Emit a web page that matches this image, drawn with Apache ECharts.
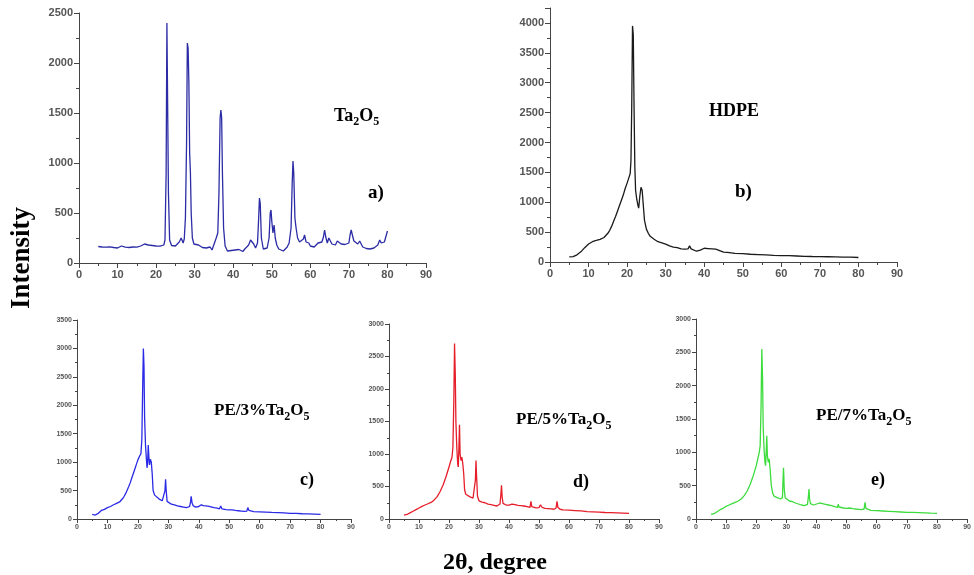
<!DOCTYPE html>
<html>
<head>
<meta charset="utf-8">
<script src="https://cdn.jsdelivr.net/npm/echarts@6/dist/echarts.min.js"></script>
<style>html,body{margin:0;padding:0;background:#fff;}#c{width:974px;height:575px;}</style>
</head>
<body>
<div id="c"></div>
<script>
// ---- data: [2theta, intensity] ----
const ta2o5 = [[5,165],[5.5,150],[6,160],[6.5,145],[7,158],[7.5,150],[8,162],[8.5,148],[9,155],[9.5,165],[10,150],[10.5,158],[11,170],[11.5,150],[12,158],[12.5,145],[13,155],[13.5,148],[14,160],[14.5,150],[15,158],[15.5,165],[16,170],[16.5,175],[17,190],[17.5,185],[18,180],[18.5,188],[19,175],[19.5,182],[20,170],[20.5,178],[21,168],[21.5,175],[22,180],[22.3,230],[22.6,900],[22.8,2400],[23.0,2380],[23.2,700],[23.5,230],[24,175],[24.5,165],[25,170],[25.5,180],[26,210],[26.5,250],[27,200],[27.3,240],[27.6,450],[27.9,1200],[28.1,2200],[28.3,2150],[28.5,1800],[28.7,1100],[28.9,900],[29.1,500],[29.4,250],[29.8,190],[30.3,170],[31,180],[31.5,165],[32,155],[32.5,160],[33,150],[33.5,140],[34,160],[34.5,130],[35,145],[35.5,240],[36,300],[36.3,700],[36.6,1450],[36.8,1530],[37.0,1450],[37.2,900],[37.5,350],[37.9,170],[38.5,120],[39,130],[39.5,125],[40,115],[40.5,130],[41,120],[41.5,135],[42,125],[42.5,115],[43,140],[43.5,130],[44,180],[44.5,230],[44.9,250],[45.3,190],[45.8,150],[46.3,200],[46.6,450],[46.8,650],[47.0,600],[47.3,250],[47.8,140],[48.3,130],[48.8,150],[49.3,250],[49.6,500],[49.8,530],[50.0,420],[50.3,300],[50.6,380],[50.9,250],[51.3,180],[51.8,140],[52.3,130],[53,120],[53.5,135],[54,160],[54.5,200],[55,350],[55.3,800],[55.5,1020],[55.7,900],[56,450],[56.3,350],[56.7,250],[57.2,210],[57.7,190],[58.2,240],[58.5,280],[58.9,210],[59.3,230],[59.6,200],[60,170],[60.5,150],[61,160],[61.5,170],[62,200],[62.5,190],[63,210],[63.4,260],[63.7,330],[64,260],[64.4,200],[64.8,250],[65.2,230],[65.6,190],[66,170],[66.5,180],[67,220],[67.5,200],[68,190],[68.5,175],[69,185],[69.5,170],[70,200],[70.3,280],[70.6,330],[70.9,280],[71.3,220],[71.8,200],[72.3,190],[72.8,220],[73.2,190],[73.6,160],[74,150],[74.5,145],[75,150],[75.5,140],[76,155],[76.5,150],[77,170],[77.5,180],[78,230],[78.4,200],[78.8,190],[79.2,210],[79.6,220],[80,320]];

const hdpe = [[5,85],[5.5,80],[6,90],[6.5,100],[7,120],[7.5,140],[8,170],[8.5,200],[9,240],[9.5,270],[10,300],[10.5,320],[11,340],[11.5,350],[12,360],[12.5,365],[13,380],[13.5,390],[14,410],[14.5,440],[15,480],[15.5,530],[16,600],[16.5,680],[17,760],[17.5,850],[18,940],[18.5,1030],[19,1120],[19.5,1230],[20,1320],[20.4,1400],[20.8,1480],[21.0,1700],[21.2,2600],[21.4,3950],[21.6,3800],[21.8,2600],[22.0,1600],[22.2,1200],[22.5,1050],[22.8,950],[23.0,900],[23.3,1100],[23.6,1250],[23.9,1200],[24.2,950],[24.5,700],[25,550],[25.5,480],[26,430],[27,380],[28,340],[29,320],[30,300],[31,270],[32,250],[33,240],[34,220],[35,215],[35.8,220],[36.2,270],[36.6,220],[37,200],[38,180],[39,200],[40,230],[41,225],[42,220],[43,215],[44,190],[45,165],[46,160],[48,145],[50,140],[52,130],[54,125],[56,120],[58,110],[60,105],[62,105],[64,100],[66,95],[68,92],[70,90],[72,88],[74,85],[76,82],[78,80],[80,75]];

const pe3 = [[5,80],[5.5,75],[6,70],[6.5,80],[7,100],[7.5,120],[8,150],[8.5,160],[9,170],[9.5,185],[10,200],[10.5,210],[11,220],[11.5,235],[12,250],[12.5,260],[13,275],[13.5,290],[14,300],[14.5,330],[15,360],[15.5,400],[16,450],[16.5,510],[17,570],[17.5,640],[18,720],[18.5,800],[19,880],[19.5,960],[20,1040],[20.5,1100],[21,1150],[21.3,1400],[21.6,2400],[21.8,3000],[22.0,2700],[22.2,1800],[22.5,1300],[22.8,1050],[23.0,900],[23.2,1000],[23.4,1300],[23.6,1100],[23.8,950],[24.1,1050],[24.4,1000],[24.7,800],[25.0,500],[25.5,420],[26,390],[27,350],[28,320],[28.6,300],[28.9,500],[29.1,700],[29.3,500],[29.6,310],[30,280],[31,260],[32,250],[33,230],[34,220],[35,210],[36,200],[37,220],[37.3,300],[37.5,400],[37.8,280],[38.2,230],[39,210],[40,220],[40.8,250],[41.5,235],[42,230],[43,225],[44,215],[45,200],[46,190],[46.8,180],[47.2,230],[47.6,180],[48,175],[49,165],[50,160],[51,160],[52,150],[53,145],[54,140],[55,135],[55.8,140],[56.1,200],[56.5,150],[57,135],[58,130],[60,125],[62,120],[64,115],[66,112],[68,108],[70,100],[72,98],[74,92],[76,90],[78,85],[80,80]];

const pe5 = [[5,60],[5.5,65],[6,70],[7,95],[8,120],[9,145],[10,170],[11,195],[12,215],[13,235],[14,255],[15,290],[16,340],[17,420],[18,520],[19,650],[20,800],[20.5,880],[21,950],[21.3,1100],[21.6,1800],[21.85,2700],[22.1,2200],[22.3,1500],[22.6,1100],[22.9,850],[23.1,800],[23.3,1100],[23.5,1450],[23.7,1000],[24.0,900],[24.3,950],[24.6,850],[24.9,700],[25.2,450],[25.6,380],[26,360],[27,340],[28,320],[28.6,330],[28.8,600],[29.0,900],[29.2,650],[29.5,350],[30,280],[31,260],[32,250],[33,230],[34,220],[35,210],[36,200],[37,230],[37.3,380],[37.5,520],[37.7,350],[38,240],[39,215],[40,215],[41,230],[42,220],[43,210],[44,205],[45,200],[46,190],[47,180],[47.3,270],[47.6,190],[48,175],[49,170],[50,175],[50.5,220],[51,180],[52,165],[53,160],[54,155],[55,150],[55.7,170],[56,270],[56.3,180],[57,150],[58,140],[60,135],[62,130],[64,125],[66,115],[68,110],[70,105],[72,100],[74,98],[76,95],[78,90],[80,85]];

const pe7 = [[5,70],[5.5,60],[6,80],[7,110],[8,140],[9,160],[10,190],[11,210],[12,230],[13,250],[14,270],[15,300],[16,350],[17,420],[18,520],[19,650],[20,800],[20.5,900],[21,1000],[21.3,1100],[21.6,1700],[21.85,2550],[22.1,2100],[22.3,1400],[22.6,1050],[22.9,850],[23.1,800],[23.3,1000],[23.5,1250],[23.7,950],[24.0,850],[24.3,900],[24.6,750],[25,500],[25.5,380],[26,340],[27,320],[28,300],[28.7,320],[28.9,600],[29.05,770],[29.3,450],[29.6,320],[30,290],[31,270],[32,260],[33,240],[34,225],[35,210],[36,200],[37,220],[37.3,330],[37.5,450],[37.7,300],[38,230],[39,210],[40,225],[41,240],[42,230],[43,220],[44,210],[45,200],[46,185],[47,175],[47.2,220],[47.5,180],[48,170],[49,165],[50,160],[50.5,180],[51,165],[52,155],[53,150],[54,145],[55,140],[55.8,150],[56.1,250],[56.4,160],[57,140],[58,130],[60,125],[62,120],[64,115],[66,110],[68,105],[70,100],[72,98],[74,95],[76,92],[78,88],[80,85]];

const seriesData = [ta2o5, hdpe, pe3, pe5, pe7];
const yMax = [2500, 4250, 3500, 3000, 3000];
const lineColors = ['#2c2ca6', '#1a1a1a', '#2a2ae6', '#e61e2a', '#3ddc3d'];

// ---- layout ----
const grids = [
  {left: 79, top: 13, width: 347, height: 250},
  {left: 550, top: 8, width: 347, height: 254},
  {left: 77, top: 320, width: 274, height: 199},
  {left: 389, top: 324, width: 270, height: 195},
  {left: 696, top: 319, width: 276, height: 200}
];
const labelSize = [11, 11, 7, 7, 7];
const axisColor = '#444';

const xAxes = grids.map((g, i) => ({
  type: 'value', gridIndex: i, min: 0, max: 90, interval: 10,
  axisLine: {show: true, onZero: false, lineStyle: {color: axisColor, width: 1}},
  axisTick: {show: true, inside: false, length: i < 2 ? 5 : 4, lineStyle: {color: axisColor}},
  minorTick: {show: true, splitNumber: 2, length: i < 2 ? 3 : 2, lineStyle: {color: axisColor}},
  splitLine: {show: false},
  axisLabel: {color: '#555', fontSize: labelSize[i], fontWeight: 'bold', fontFamily: 'Liberation Sans', margin: i < 2 ? 6 : 5}
}));
const yAxes = grids.map((g, i) => ({
  type: 'value', gridIndex: i, min: 0, max: yMax[i], interval: 500,
  axisLine: {show: true, onZero: false, lineStyle: {color: axisColor, width: 1}},
  axisTick: {show: true, inside: false, length: i < 2 ? 5 : 4, lineStyle: {color: axisColor}},
  minorTick: {show: true, splitNumber: 2, length: i < 2 ? 3 : 2, lineStyle: {color: axisColor}},
  splitLine: {show: false},
  axisLabel: {color: '#555', fontSize: labelSize[i], fontWeight: 'bold', fontFamily: 'Liberation Sans', margin: i < 2 ? 6 : 5,
    formatter: v => (v % 500 === 0 ? String(v) : '')}
}));
const series = seriesData.map((d, i) => ({
  type: 'line', xAxisIndex: i, yAxisIndex: i, data: d, showSymbol: false, symbol: 'none',
  lineStyle: {color: lineColors[i], width: 1.3}, animation: false, z: 3
}));

const serif = '"Liberation Serif", "Times New Roman", serif';
const fontFor = s => 'bold ' + s + 'px ' + serif;

// chemical label drawn as separate text pieces: main parts + lowered subscripts
function chemLabel(parts, left, center, size) {
  const ctx = document.createElement('canvas').getContext('2d');
  const subSize = Math.round(size * 0.68);
  const els = [];
  let x = left;
  parts.forEach(p => {
    const isSub = p[1] === 1;
    const s = isSub ? subSize : size;
    ctx.font = fontFor(s);
    els.push({type: 'text', x: x, y: center + (isSub ? Math.round(size * 0.36) : 0), z: 10,
      style: {text: p[0], fill: '#000', font: fontFor(s), align: 'left', verticalAlign: 'middle'}});
    x += ctx.measureText(p[0]).width;
  });
  return els;
}
function plain(text, left, center, size) {
  return {type: 'text', x: left, y: center, z: 10,
    style: {text: text, fill: '#000', font: fontFor(size), align: 'left', verticalAlign: 'middle'}};
}
const graphics = [].concat(
  chemLabel([['Ta'], ['2', 1], ['O'], ['5', 1]], 334, 116, 18),
  [plain('a)', 368, 193, 19)],
  [plain('HDPE', 709, 111, 18)],
  [plain('b)', 735, 192, 19)],
  chemLabel([['PE/3%Ta'], ['2', 1], ['O'], ['5', 1]], 214, 411, 17),
  [plain('c)', 300, 480, 18)],
  chemLabel([['PE/5%Ta'], ['2', 1], ['O'], ['5', 1]], 516, 420, 17),
  [plain('d)', 573, 482, 18)],
  chemLabel([['PE/7%Ta'], ['2', 1], ['O'], ['5', 1]], 816, 416, 17),
  [plain('e)', 871, 480, 18)],
  [{type: 'text', x: 22, y: 258, rotation: Math.PI / 2, z: 10,
    style: {text: 'Intensity', fill: '#000', font: 'bold 27px ' + serif, align: 'center', verticalAlign: 'middle'}},
   {type: 'text', x: 495, y: 563, z: 10,
    style: {text: '2θ, degree', fill: '#000', font: 'bold 24px ' + serif, align: 'center', verticalAlign: 'middle'}}]
);

const chart = echarts.init(document.getElementById('c'), null, {renderer: 'canvas'});
chart.setOption({
  animation: false,
  backgroundColor: '#fff',
  grid: grids,
  xAxis: xAxes,
  yAxis: yAxes,
  series: series,
  graphic: graphics
});
</script>
</body>
</html>
